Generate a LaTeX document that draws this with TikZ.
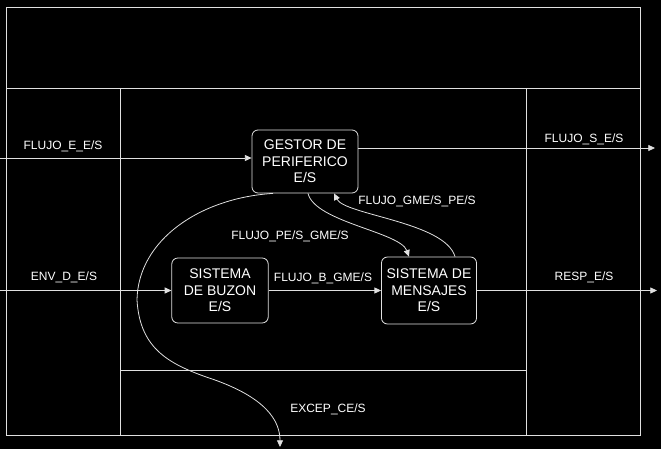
\documentclass[tikz,border=0pt]{standalone}
\usepackage{fontspec}
\setmainfont{Liberation Sans}
\usetikzlibrary{arrows.meta,calc}

\begin{document}
\begin{tikzpicture}[x=0.75pt,y=0.75pt,yscale=-1,xscale=1,
  line/.style={draw=white!88!black,line width=0.6pt},
  flow/.style={line,-{Triangle[length=5pt,width=4.5pt]}},
  proc/.style={line,rounded corners=4.5pt,align=center,text=white,inner sep=0pt,font=\fontsize{10.5}{12.3}\selectfont},
  lbl/.style={text=white,inner sep=0.75pt,font=\fontsize{9}{10}\selectfont}]
%uncomment if require: \path (0,449); %set diagram left start at 0, and has height of 449
\fill[black] (0,0) rectangle (661,449);
\useasboundingbox (0,0) rectangle (661,449);

%Straight Lines
\draw[line] (6,7) rectangle (640,435);
%Straight Lines
\draw[line] (6,88) -- (640,88);
%Straight Lines
\draw[line] (120,88) -- (120,435);
%Straight Lines
\draw[line] (526,88) -- (526,435);
%Straight Lines
\draw[line] (120,370) -- (526,370);

%Rounded Rect
\node[proc,minimum width=79.5pt,minimum height=47.25pt] (gestor) at (305,161.5) {GESTOR DE\\PERIFERICO\\E/S};
%Rounded Rect
\node[proc,minimum width=72.3pt,minimum height=48.75pt] (buzon) at (220,290.5) {SISTEMA\\DE BUZON\\E/S};
%Rounded Rect
\node[proc,minimum width=71.3pt,minimum height=50.25pt] (mensajes) at (429,290.5) {SISTEMA DE\\MENSAJES\\E/S};

\coordinate (ein) at (0,158);
\coordinate (sout) at (655,148);
\coordinate (envin) at (0,290.5);
\coordinate (respout) at (657,290.5);

%Straight Lines
\draw[flow] (ein) -- (ein -| gestor.west);
%Straight Lines
\draw[flow] (sout -| gestor.east) -- (sout);
%Straight Lines
\draw[flow] (envin) -- (envin -| buzon.west);
%Straight Lines
\draw[flow] (buzon.east) -- (mensajes.west);
%Straight Lines
\draw[flow] (mensajes.east) -- (respout);

%Curve Lines
\draw[flow] ($(gestor.south)+(3,0)$) .. controls (315,222) and (400,232) .. ($(mensajes.north)+(-20,0)$);
%Curve Lines
\draw[flow] ($(mensajes.north)+(26,0)$) .. controls (445,222) and (345,215) .. ($(gestor.south)+(29,0)$);
%Curve Lines
\draw[flow] ($(gestor.south)+(-32,0)$) .. controls (200,198) and (138,240) .. (137,300) .. controls (140,350) and (170,365) .. (215,380) .. controls (265,398) and (280,420) .. (280,447);

% Text Node
\node[lbl] (lflujoe) at (63,146) {FLUJO\_E\_E/S};
% Text Node
\node[lbl] (lenv) at (64,277) {ENV\_D\_E/S};
% Text Node
\node[lbl] (lpegme) at (290,236) {FLUJO\_PE/S\_GME/S};
% Text Node
\node[lbl] (lgmepe) at (417,201) {FLUJO\_GME/S\_PE/S};
% Text Node
\node[lbl] (lflujob) at (323,278) {FLUJO\_B\_GME/S};
% Text Node
\node[lbl] (lflujos) at (584,139) {FLUJO\_S\_E/S};
% Text Node
\node[lbl] (lresp) at (584,277) {RESP\_E/S};
% Text Node
\node[lbl] (lexcep) at (328,409) {EXCEP\_CE/S};

\end{tikzpicture}
\end{document}
